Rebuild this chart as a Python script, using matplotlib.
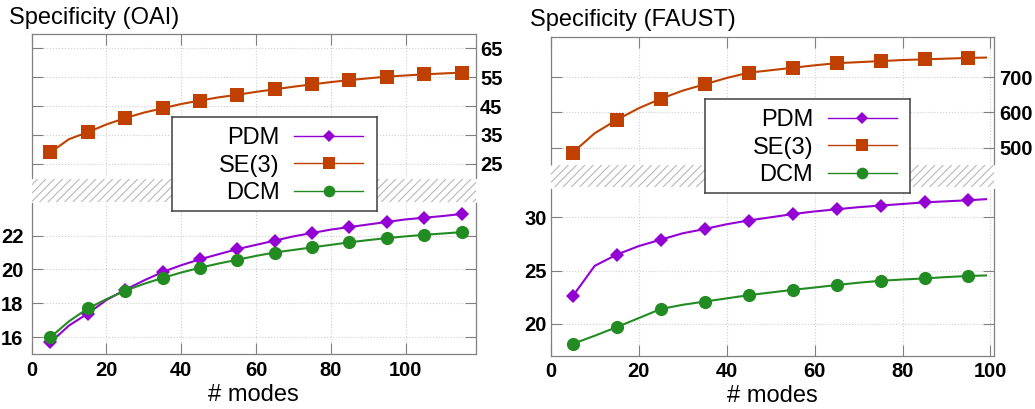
import matplotlib.pyplot as plt
from matplotlib.patches import Rectangle
from matplotlib.lines import Line2D

plt.rcParams['font.family'] = ['Liberation Sans', 'DejaVu Sans']
plt.rcParams['hatch.color'] = '#b8b8b8'
plt.rcParams['hatch.linewidth'] = 0.8

# OAI : line points every 5 modes, markers on 5, 15, 25, ...
modes_oai = [5, 10, 15, 20, 25, 30, 35, 40, 45, 50, 55, 60,
             65, 70, 75, 80, 85, 90, 95, 100, 105, 110, 115]
pdm_oai = [15.7, 16.7, 17.4, 18.2, 18.8, 19.35, 19.85, 20.25, 20.6, 20.9, 21.2, 21.45,
           21.7, 21.95, 22.15, 22.35, 22.5, 22.65, 22.8, 22.95, 23.05, 23.15, 23.27]
se3_oai = [28.9, 33.5, 35.9, 38.6, 40.8, 42.7, 44.2, 45.7, 46.9, 48.0, 48.9, 49.9,
           50.8, 51.7, 52.5, 53.3, 54.0, 54.6, 55.2, 55.6, 56.0, 56.3, 56.6]
dcm_oai = [16.0, 16.95, 17.7, 18.25, 18.75, 19.15, 19.5, 19.82, 20.1, 20.35, 20.57, 20.8,
           21.0, 21.15, 21.3, 21.45, 21.6, 21.73, 21.85, 21.95, 22.04, 22.12, 22.2]

# FAUST
modes_faust = [5, 10, 15, 20, 25, 30, 35, 40, 45, 50, 55, 60,
               65, 70, 75, 80, 85, 90, 95, 99]
pdm_faust = [22.6, 25.45, 26.5, 27.3, 27.9, 28.5, 28.9, 29.35, 29.7, 30.0, 30.3, 30.55,
             30.75, 30.95, 31.1, 31.25, 31.4, 31.5, 31.6, 31.7]
se3_faust = [486, 541, 579, 612, 639, 662, 680, 698, 713, 720, 727, 734,
             740, 743, 746, 749, 751, 753, 755, 756]
dcm_faust = [18.13, 18.9, 19.7, 20.55, 21.4, 21.8, 22.1, 22.4, 22.7, 22.95, 23.2, 23.42,
             23.65, 23.87, 24.05, 24.17, 24.27, 24.4, 24.5, 24.55]

noms = ['PDM', 'SE(3)', 'DCM']
x_ticks = [0, 20, 40, 60, 80, 100]

col_pdm = '#9400d3'
col_se3 = '#c04000'
col_dcm = '#228b22'
gris = '#808080'

W, H = 1035, 409
fig = plt.figure(figsize=(W / 100, H / 100), dpi=100)


def px(x0, y0, x1, y1):
    # pixel box (top-left origin) -> figure fraction rect
    return [x0 / W, 1 - y1 / H, (x1 - x0) / W, (y1 - y0) / H]


def style(ax, xmax, ylim, yticks, bas, ypad):
    ax.set_xlim(0, xmax)
    ax.set_ylim(ylim)
    ax.set_xticks(x_ticks, [str(v) for v in x_ticks], fontweight='bold')
    ax.set_yticks(yticks, [str(v) for v in yticks], fontweight='bold')
    ax.grid(True, ls=':', color='#cfcfcf', lw=0.8)
    ax.set_axisbelow(True)
    for s in ax.spines.values():
        s.set_color(gris)
        s.set_linewidth(0.9)
    ax.tick_params(direction='in', length=8, width=0.8, color=gris, labelsize=14.5)
    ax.tick_params(axis='x', pad=4.5)
    ax.tick_params(axis='y', pad=ypad)
    if bas:
        ax.spines['top'].set_visible(False)
        ax.tick_params(top=False, right=True, labelleft=True, labelright=False)
    else:
        ax.spines['bottom'].set_visible(False)
        ax.tick_params(bottom=False, labelbottom=False, top=True, right=True,
                       labelleft=False, labelright=True)


def tracer(ax, x, y, couleur, mk, ms):
    ax.plot(x, y, color=couleur, lw=1.5, marker=mk, ms=ms, mew=0,
            markevery=list(range(0, len(x), 2)))


def legende(x0, y0):
    lax = fig.add_axes(px(x0, y0, x0 + 205, y0 + 93.5), zorder=5)
    lax.set_xlim(0, 1)
    lax.set_ylim(0, 1)
    lax.set_xticks([])
    lax.set_yticks([])
    for s in lax.spines.values():
        s.set_color('#404040')
        s.set_linewidth(1.1)
    styles = [(col_pdm, 'D', 6.4), (col_se3, 's', 9.0), (col_dcm, 'o', 8.4)]
    for i, nom in enumerate(noms):
        c, mk, ms = styles[i]
        y = 0.8 - i * 0.294
        lax.text(0.528, y - 0.087, nom, ha='right', va='baseline', fontsize=17)
        lax.add_line(Line2D([0.598, 0.935], [y, y], color=c, lw=1))
        lax.add_line(Line2D([0.766], [y], color=c, marker=mk, ms=ms, mew=0))


def hachures(x0, y0, x1, y1):
    r = px(x0, y0, x1, y1)
    fig.add_artist(Rectangle((r[0], r[1]), r[2], r[3], transform=fig.transFigure,
                             facecolor='white', edgecolor='#b8b8b8', hatch='////', lw=0))


# Panneau OAI
haut = fig.add_axes(px(31.7, 34, 475.8, 178))
bas = fig.add_axes(px(31.7, 203.3, 475.8, 354.3))
tracer(haut, modes_oai, se3_oai, col_se3, 's', 9.6)
tracer(bas, modes_oai, pdm_oai, col_pdm, 'D', 7.4)
tracer(bas, modes_oai, dcm_oai, col_dcm, 'o', 9.5)
style(haut, 118.8, (20, 70), [25, 35, 45, 55, 65], False, 3.2)
style(bas, 118.8, (15, 23.9), [16, 18, 20, 22], True, 6)
hachures(31.7, 179.3, 475.8, 201.7)
legende(171.7, 117.3)
fig.text(9.3 / W, 1 - 24.3 / H, 'Specificity (OAI)', fontsize=17, va='baseline')
fig.text((31.7 + 475.8) / 2 / W, 1 - 401 / H, '# modes', fontsize=17, ha='center', va='baseline')

# Panneau FAUST
haut = fig.add_axes(px(550.7, 37.3, 994, 164))
bas = fig.add_axes(px(550.7, 188.5, 994, 356))
tracer(haut, modes_faust, se3_faust, col_se3, 's', 9.6)
tracer(bas, modes_faust, pdm_faust, col_pdm, 'D', 7.4)
tracer(bas, modes_faust, dcm_faust, col_dcm, 'o', 9.5)
style(haut, 100.8, (453.7, 813.6), [500, 600, 700], False, 3.8)
style(bas, 100.8, (17, 32.7), [20, 25, 30], True, 3)
hachures(550.7, 165, 994, 187)
legende(705, 99.3)
fig.text(530 / W, 1 - 26 / H, 'Specificity (FAUST)', fontsize=17, va='baseline')
fig.text((550.7 + 994) / 2 / W, 1 - 401.7 / H, '# modes', fontsize=17, ha='center', va='baseline')

fig.savefig('out.png', dpi=100)
